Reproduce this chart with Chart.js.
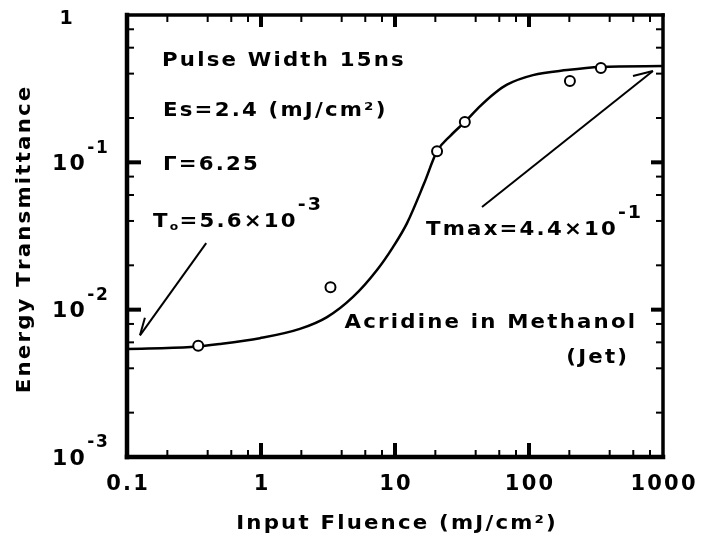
<!DOCTYPE html>
<html>
<head>
<meta charset="utf-8">
<script src="https://cdn.jsdelivr.net/npm/chart.js@4.4.0/dist/chart.umd.min.js"></script>
<style>
  html, body { margin: 0; padding: 0; background: #fff; }
  canvas { display: block; }
</style>
</head>
<body>
<canvas id="grafico" width="704" height="543"></canvas>
<script>
// eixos (escala log-log)
const fluenceTicks = [0.1, 1, 10, 100, 1000];
const fluenceLabels = ['0.1', '1', '10', '100', '1000'];
const transTicks = [1, 0.1, 0.01, 0.001];
const transExps = ['', '-1', '-2', '-3'];
const minorSteps = [2, 4, 6, 8];

// pontos medidos (círculos)
const measFluence = [0.34, 3.3, 20.6, 33.2, 202, 344];
const measT = [0.0057, 0.0142, 0.119, 0.188, 0.356, 0.437];

// curva ajustada
const fitFluence = [0.1, 0.3, 0.49, 0.98, 1.95, 3.11, 4.86, 7.34, 9.66, 12.3, 16.5, 20.6, 26, 33.2, 43, 55.7, 68.5, 107, 192, 339, 1000];
const fitT = [0.0054, 0.00557, 0.00584, 0.0064, 0.0074, 0.0089, 0.0122, 0.0186, 0.0266, 0.0387, 0.072, 0.119, 0.152, 0.188, 0.24, 0.296, 0.337, 0.391, 0.423, 0.444, 0.45];

// setas das anotações (fluência, transmitância)
const t0Arrow = [[0.39, 0.0283], [0.125, 0.0067], [0.136, 0.0088]];
const tmaxArrow = [[44.6, 0.0497], [841, 0.417], [597, 0.385]];

const FONT = '"DejaVu Sans", Verdana, sans-serif';
const TXT = { sx: 1.12, sp: 2.2 };   // fonte "estendida" do original
const NUM = { sx: 1.0, sp: 2 };

function drawParts(ctx, x, y, parts, align, st) {
  st = st || TXT;
  const items = [];
  let total = 0;
  parts.forEach(([t, size, dy]) => {
    ctx.font = `bold ${size}px ${FONT}`;
    for (const ch of t) {
      const w = ctx.measureText(ch).width * st.sx;
      const sp = st.sp * size / 19;
      items.push({ ch, size, dy: dy || 0, w, sp });
      total += w + sp;
    }
  });
  if (items.length) total -= items[items.length - 1].sp;
  let cx = align === 'right' ? x - total : align === 'center' ? x - total / 2 : x;
  ctx.fillStyle = '#000';
  ctx.textBaseline = 'middle';
  ctx.textAlign = 'left';
  items.forEach(it => {
    ctx.save();
    ctx.font = `bold ${it.size}px ${FONT}`;
    ctx.translate(cx, y + it.dy);
    ctx.scale(st.sx, 1);
    ctx.fillText(it.ch, 0, 0);
    ctx.restore();
    cx += it.w + it.sp;
  });
}

function line(ctx, x1, y1, x2, y2, w) {
  ctx.lineWidth = w;
  ctx.beginPath();
  ctx.moveTo(x1, y1);
  ctx.lineTo(x2, y2);
  ctx.stroke();
}

const moldura = {
  id: 'moldura',
  afterDraw(chart) {
    const ctx = chart.ctx;
    const { left, right, top, bottom } = chart.chartArea;
    const xs = chart.scales.x, ys = chart.scales.y;
    ctx.save();
    ctx.strokeStyle = '#000';
    ctx.lineCap = 'butt';

    // setas
    [t0Arrow, tmaxArrow].forEach(a => {
      const p = a.map(([fx, fy]) => [xs.getPixelForValue(fx), ys.getPixelForValue(fy)]);
      line(ctx, p[0][0], p[0][1], p[1][0], p[1][1], 2);
      line(ctx, p[1][0], p[1][1], p[2][0], p[2][1], 2);
    });

    // moldura
    ctx.lineCap = 'square';
    line(ctx, left, top, left, bottom, 4.5);
    line(ctx, left, bottom, right, bottom, 4.5);
    line(ctx, left, top, right, top, 3.5);
    line(ctx, right, top, right, bottom, 3.5);
    ctx.lineCap = 'butt';

    // marcas do eixo x
    fluenceTicks.forEach((v, i) => {
      const px = xs.getPixelForValue(v);
      if (i > 0 && i < fluenceTicks.length - 1) {
        line(ctx, px, bottom, px, bottom - 14, 4);
        line(ctx, px, top, px, top + 12, 4);
      }
      if (i < fluenceTicks.length - 1) {
        minorSteps.forEach(m => {
          const mx = xs.getPixelForValue(v * m);
          line(ctx, mx, bottom, mx, bottom - 7, 2);
          line(ctx, mx, top, mx, top + 7, 2);
        });
      }
      drawParts(ctx, px, 485, [[fluenceLabels[i], 21]], 'center', NUM);
    });

    // marcas do eixo y
    transTicks.forEach((v, i) => {
      const py = ys.getPixelForValue(v);
      if (i > 0 && i < transTicks.length - 1) {
        line(ctx, left, py, left + 14, py, 4);
        line(ctx, right, py, right - 12, py, 4);
      }
      if (i > 0) {
        minorSteps.forEach(m => {
          const my = ys.getPixelForValue(v * m);
          line(ctx, left, my, left + 7, my, 2);
          line(ctx, right, my, right - 7, my, 2);
        });
      }
      if (transExps[i] === '') {
        drawParts(ctx, 66, py + 4, [['1', 19]], 'center', NUM);
      } else {
        drawParts(ctx, 52, py + 2, [['10', 22], [transExps[i], 17, -16]], 'left', NUM);
      }
    });

    // títulos dos eixos
    drawParts(ctx, 396, 524, [['Input Fluence (mJ/cm²)', 19]], 'center');
    ctx.save();
    ctx.translate(25, 240);
    ctx.rotate(-Math.PI / 2);
    drawParts(ctx, 0, 0, [['Energy Transmittance', 19]], 'center');
    ctx.restore();

    // anotações
    drawParts(ctx, 162, 61, [['Pulse Width 15ns', 19]], 'left');
    drawParts(ctx, 163, 111, [['Es=2.4 (mJ/cm²)', 19]], 'left');
    drawParts(ctx, 163, 165, [['Γ=6.25', 19]], 'left');
    drawParts(ctx, 153, 222, [['T', 19], ['o', 11, 5], ['=5.6×10', 19], ['-3', 17, -16]], 'left');
    drawParts(ctx, 426, 230, [['Tmax=4.4×10', 19], ['-1', 17, -16]], 'left');
    drawParts(ctx, 635, 323, [['Acridine in Methanol', 19]], 'right');
    drawParts(ctx, 627, 358, [['(Jet)', 19]], 'right');

    ctx.restore();
  }
};

const ctx = document.getElementById('grafico').getContext('2d');
new Chart(ctx, {
  type: 'scatter',
  data: {
    datasets: [
      {
        label: 'ajuste',
        data: fitFluence.map((x, i) => ({ x, y: fitT[i] })),
        showLine: true,
        borderColor: '#000',
        borderWidth: 2.5,
        pointRadius: 0,
        cubicInterpolationMode: 'monotone',
        order: 2
      },
      {
        label: 'medido',
        data: measFluence.map((x, i) => ({ x, y: measT[i] })),
        showLine: false,
        pointRadius: 5,
        pointBorderWidth: 2,
        pointBackgroundColor: '#fff',
        pointBorderColor: '#000',
        order: 1
      }
    ]
  },
  options: {
    responsive: false,
    animation: false,
    layout: { padding: { left: 127, top: 15, right: 41, bottom: 86 } },
    scales: {
      x: { type: 'logarithmic', min: 0.1, max: 1000, display: false },
      y: { type: 'logarithmic', min: 0.001, max: 1, display: false }
    },
    plugins: {
      legend: { display: false },
      tooltip: { enabled: false }
    }
  },
  plugins: [moldura]
});
</script>
</body>
</html>
